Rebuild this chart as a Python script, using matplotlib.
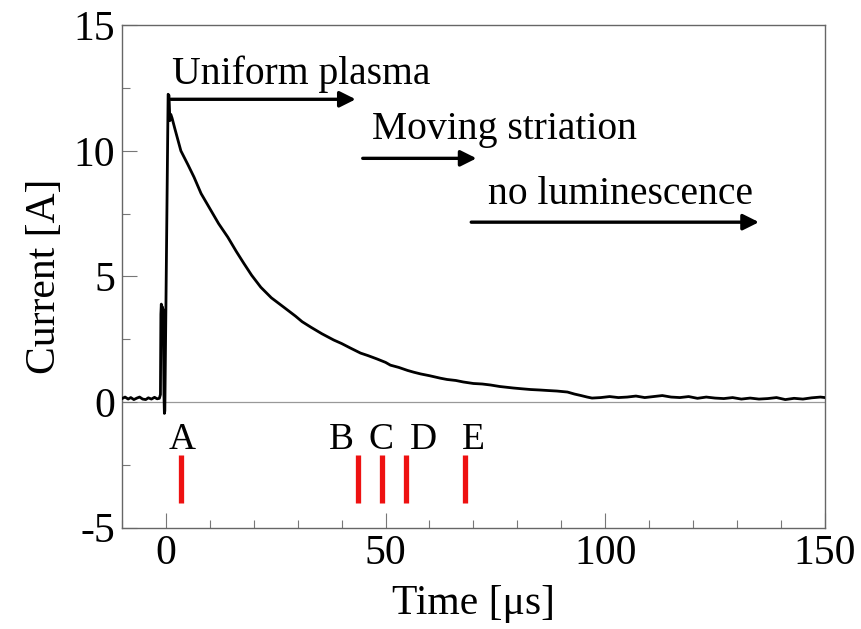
import matplotlib
matplotlib.use("Agg")
import matplotlib.pyplot as plt
from matplotlib.ticker import MultipleLocator

plt.rcParams['font.family'] = ['Liberation Serif', 'DejaVu Serif']
plt.rcParams['axes.unicode_minus'] = False

# ---- data ----
time_us = [-10, -9.3, -8.6, -8.0, -7.3, -6.6, -6.0, -5.3, -4.6, -4.0, -3.3, -2.6, -2.0, -1.5,
           -1.25, -1.15, -1.05, -0.95, -0.85, -0.75, -0.65, -0.55, -0.45, -0.35, -0.25,
           0.5, 0.7, 0.9, 1.1, 1.4,
           2.0, 3.4, 5.0, 6.4, 8.0, 10.2, 12.0, 14.1, 16.0, 17.7, 19.5, 21.6, 24.0, 26.8,
           29.5, 31.0, 33.0, 35.5, 38.2, 40.0, 42.0, 44.3, 46.0, 48.0, 50.0, 51.1, 53.0,
           55.0, 56.4, 58.0, 60.0, 62.5, 64.0, 66.0, 67.7, 70.0, 72.0, 73.9, 76.0, 79.1,
           81.0, 83.0, 85.2, 87.0, 89.0, 91.4, 93.0, 94.5, 95.9, 97.0,
           99, 101, 103, 105, 107, 109, 111, 113, 115, 117, 119, 121, 123, 125, 127,
           129, 131, 133, 135, 137, 139, 141, 143, 145, 147, 149, 150]
current_A = [0.14, 0.20, 0.12, 0.18, 0.10, 0.16, 0.20, 0.12, 0.10, 0.17, 0.12, 0.19, 0.13, 0.15,
             0.3, 3.5, 3.9, 3.3, 3.8, 3.0, 3.7, 2.2, 0.3, -0.45, -0.35,
             12.25, 12.2, 11.2, 11.45, 11.3,
             10.9, 10.0, 9.45, 8.95, 8.3, 7.64, 7.1, 6.56, 6.0, 5.53, 5.05, 4.57, 4.15, 3.78,
             3.42, 3.2, 2.98, 2.72, 2.47, 2.33, 2.15, 1.95, 1.85, 1.72, 1.58, 1.47, 1.38,
             1.26, 1.19, 1.12, 1.05, 0.95, 0.90, 0.86, 0.80, 0.74, 0.72, 0.68, 0.62, 0.56,
             0.53, 0.50, 0.48, 0.46, 0.44, 0.40, 0.32, 0.26, 0.20, 0.16,
             0.18, 0.22, 0.18, 0.20, 0.24, 0.18, 0.22, 0.26, 0.20, 0.18, 0.22, 0.15, 0.20, 0.16, 0.14,
             0.18, 0.12, 0.16, 0.12, 0.14, 0.18, 0.10, 0.15, 0.12, 0.17, 0.20, 0.18]

marker_labels = ['A', 'B', 'C', 'D', 'E']
marker_times = [3.4, 43.7, 49.2, 54.7, 68.0]
label_times = [3.8, 40.0, 49.0, 58.7, 70.0]

phase_texts = ['Uniform plasma', 'Moving striation', 'no luminescence']
phase_text_x = [1.4, 47.0, 73.4]
phase_text_y = [13.05, 10.85, 8.25]
arrow_start = [1.1, 44.8, 69.5]
arrow_end = [43.2, 70.7, 135.0]
arrow_y = [12.05, 9.7, 7.16]

# ---- figure ----
fig = plt.figure(figsize=(8.61, 6.29), dpi=100)
ax = fig.add_axes([0.1417, 0.161, 0.8163, 0.799])

ax.axhline(0, color='#999999', lw=0.9, zorder=1)
ax.plot(time_us, current_A, color='black', lw=2.0, zorder=3)

for t in marker_times:
    ax.plot([t, t], [-2.1, -4.0], color='#ee1111', lw=3.8, solid_capstyle='butt', zorder=3)
for lab, t in zip(marker_labels, label_times):
    ax.text(t, -1.5, lab, fontsize=27, ha='center', va='center')

for txt, tx, ty in zip(phase_texts, phase_text_x, phase_text_y):
    ax.text(tx, ty, txt, fontsize=28.5, ha='left', va='center')
for x0, x1, y in zip(arrow_start, arrow_end, arrow_y):
    ax.annotate('', xy=(x1, y), xytext=(x0, y),
                arrowprops=dict(arrowstyle='-|>', color='black', lw=2.4,
                                mutation_scale=24, shrinkA=0, shrinkB=0))

ax.set_xlim(-10, 150)
ax.set_ylim(-5, 15)
ax.xaxis.set_major_locator(MultipleLocator(50))
ax.xaxis.set_minor_locator(MultipleLocator(10))
ax.yaxis.set_major_locator(MultipleLocator(5))
ax.yaxis.set_minor_locator(MultipleLocator(2.5))
ax.tick_params(which='both', direction='in', color='#777777', width=0.8,
               labelsize=30, top=False, right=False)
ax.tick_params(which='major', length=11, pad=5)
ax.tick_params(which='minor', length=6)
for s in ax.spines.values():
    s.set_color('#666666')
    s.set_linewidth(1.0)

ax.set_xlabel('Time [\u03bcs]', fontsize=30, labelpad=8)
ax.set_ylabel('Current [A]', fontsize=30, labelpad=7)

fig.savefig('out.png', dpi=100)
